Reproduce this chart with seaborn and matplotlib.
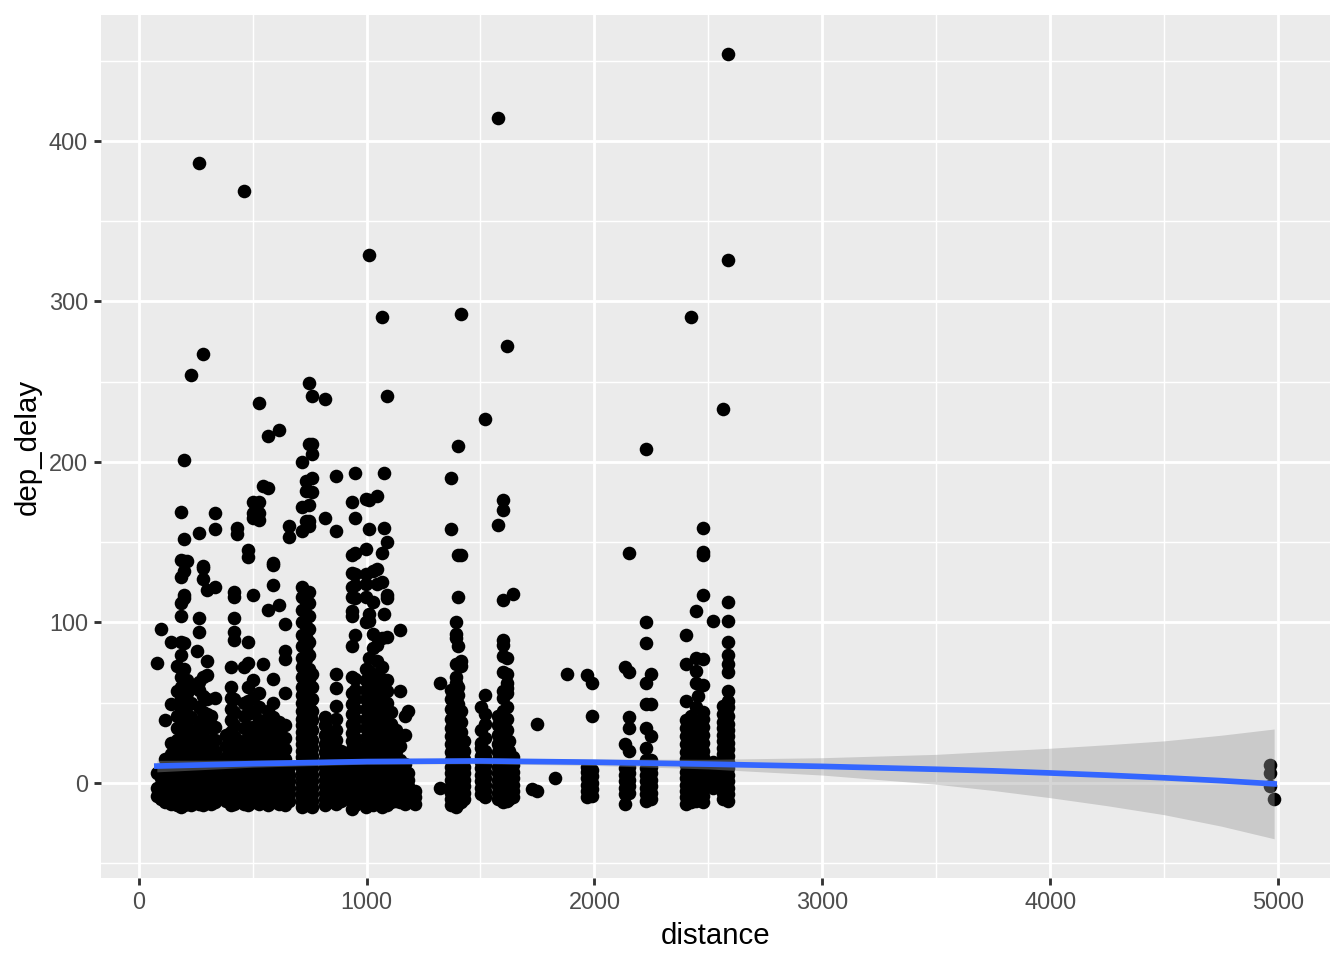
import matplotlib
matplotlib.use("Agg")
import matplotlib.pyplot as plt
import numpy as np
import pandas as pd
import seaborn as sns

# ---------------- data ----------------
dist_short = [80, 96, 116, 143, 169, 184, 199, 213, 229, 254, 264, 284, 301, 319, 335]
delay_short = [
    [-8, -3, 6, 75],
    [-10, -6, -1, 3, 96],
    [-12, -8, -4, 0, 4, 9, 15, 39],
    [-13, -9, -5, -1, 3, 7, 12, 18, 25, 49, 88],
    [-14, -10, -6, -2, 2, 6, 10, 15, 20, 27, 34, 42, 57, 73],
    [-15, -11, -7, -3, 1, 5, 9, 13, 18, 23, 28, 34, 40, 46, 53, 60, 66, 80, 88, 104, 112, 128, 139, 169],
    [-14, -10, -6, -2, 2, 6, 10, 14, 19, 24, 30, 37, 44, 52, 63, 71, 87, 115, 117, 132, 138, 152, 201],
    [-13, -9, -5, -1, 3, 7, 11, 16, 21, 27, 33, 40, 48, 56, 64, 138],
    [-14, -10, -6, -2, 2, 6, 10, 15, 20, 26, 33, 41, 50, 59, 254],
    [-12, -8, -4, 0, 4, 8, 13, 18, 24, 82],
    [-13, -9, -5, -1, 3, 7, 12, 17, 23, 30, 38, 47, 58, 63, 103, 94, 156, 386],
    [-14, -10, -6, -2, 2, 6, 10, 15, 21, 28, 35, 44, 54, 66, 127, 134, 135, 267],
    [-12, -8, -4, 0, 4, 9, 14, 20, 27, 35, 43, 52, 76, 67, 120],
    [-13, -9, -5, -1, 3, 8, 13, 19, 26, 34, 42],
    [-12, -8, -4, 0, 4, 9, 14, 20, 27, 35, 53, 122, 158, 168],
]

dist_mid = [382, 404, 419, 431, 462, 479, 502, 529, 544, 569, 589, 617, 641, 659,
            719, 733, 748, 762, 820, 833, 866, 888]
delay_mid = [
    [-11, -7, -3, 1, 5, 10, 16, 23, 30],
    [-14, -10, -6, -2, 2, 6, 10, 15, 20, 26, 32, 39, 46, 53, 60, 72],
    [-13, -9, -5, -1, 3, 7, 12, 17, 23, 29, 36, 44, 52, 89, 94, 103, 116, 119],
    [-12, -8, -4, 0, 4, 9, 14, 20, 27, 155, 159],
    [-13, -9, -5, -1, 3, 8, 13, 19, 26, 34, 42, 50, 72, 369],
    [-14, -10, -6, -2, 2, 6, 11, 16, 22, 28, 35, 43, 51, 60, 75, 88, 141, 145],
    [-12, -8, -4, 0, 4, 9, 14, 20, 27, 35, 44, 53, 64, 117, 165, 168, 175],
    [-13, -9, -5, -1, 3, 7, 12, 18, 24, 31, 39, 47, 56, 164, 168, 175, 237],
    [-11, -7, -3, 1, 5, 10, 16, 23, 30, 38, 74, 185],
    [-14, -10, -6, -2, 2, 6, 11, 16, 22, 29, 37, 45, 108, 184, 216],
    [-12, -8, -4, 0, 4, 8, 13, 19, 26, 33, 41, 50, 65, 123, 136, 137],
    [-13, -9, -5, -1, 3, 7, 12, 17, 23, 30, 38, 111, 220],
    [-14, -10, -6, -2, 2, 6, 10, 15, 21, 28, 36, 56, 77, 82, 99],
    [-11, -7, -3, 1, 5, 10, 160, 153],
    [-15, -12, -9, -6, -3, 0, 3, 6, 9, 12, 16, 20, 24, 28, 32, 36, 40, 45, 50, 55, 60, 66, 72, 78,
     85, 92, 100, 108, 116, 122, 157, 172, 200],
    [-14, -11, -8, -5, -2, 1, 4, 7, 10, 14, 18, 22, 26, 30, 35, 40, 46, 52, 58, 64, 70, 77, 84, 91,
     98, 105, 113, 163, 188, 182],
    [-13, -10, -7, -4, -1, 2, 5, 8, 11, 15, 19, 23, 27, 31, 36, 41, 47, 53, 59, 65, 71, 80, 88, 96,
     104, 112, 119, 173, 211, 249, 163, 160],
    [-15, -11, -7, -3, 1, 5, 9, 13, 17, 22, 27, 33, 39, 45, 52, 60, 68, 190, 181, 211, 205, 241],
    [-14, -10, -6, -2, 2, 6, 10, 14, 19, 24, 30, 36, 41, 165, 239],
    [-12, -8, -4, 0, 4, 8, 12, 17, 23, 29],
    [-13, -9, -5, -1, 3, 7, 11, 16, 21, 27, 33, 40, 48, 59, 68, 157, 191],
    [-11, -7, -3, 1, 5, 9, 14, 20],
]

dist_south = [937, 950, 997, 1010, 1028, 1047, 1068, 1076, 1089, 1107, 1131, 1148, 1167, 1183, 1213]
delay_south = [
    [-16, -12, -8, -4, 0, 4, 8, 12, 16, 21, 26, 31, 37, 43, 49, 56, 66, 85, 104, 107, 116, 122, 131, 175, 142],
    [-14, -10, -6, -2, 2, 6, 10, 14, 18, 23, 28, 34, 40, 46, 52, 58, 65, 92, 115, 123, 130, 143, 165, 193],
    [-15, -11, -7, -3, 1, 5, 9, 13, 18, 23, 28, 34, 40, 46, 52, 58, 64, 71, 100, 116, 124, 146, 130, 177],
    [-13, -9, -5, -1, 3, 7, 11, 15, 20, 25, 31, 37, 43, 49, 56, 63, 70, 78, 101, 105, 158, 176, 329],
    [-14, -10, -6, -2, 2, 6, 10, 14, 19, 24, 29, 35, 41, 47, 54, 61, 68, 84, 93, 113, 132],
    [-12, -8, -4, 0, 4, 8, 12, 17, 22, 27, 33, 39, 46, 53, 60, 76, 86, 124, 133, 179],
    [-15, -11, -7, -3, 1, 5, 9, 13, 18, 23, 28, 34, 40, 46, 52, 58, 65, 72, 90, 125, 143, 290],
    [-13, -9, -5, -1, 3, 7, 11, 16, 21, 26, 32, 38, 44, 51, 57, 105, 159, 193],
    [-14, -10, -6, -2, 2, 6, 10, 14, 19, 24, 30, 36, 43, 50, 57, 64, 91, 115, 117, 150, 241],
    [-12, -8, -4, 0, 4, 8, 13, 18, 24, 30, 37, 44],
    [-11, -7, -3, 1, 5, 9, 14, 20, 26, 33],
    [-12, -8, -4, 0, 5, 10, 14, 23, 57, 95],
    [-13, -9, -5, -1, 3, 7, 12, 30, 42],
    [-10, -6, -2, 2, 6, 45],
    [-13, -9, -5],
]

dist_central = [1323, 1372, 1391, 1400, 1416, 1428, 1504, 1521, 1576, 1598, 1617, 1626, 1645,
                1725, 1747, 1826, 1878, 1969, 1990]
delay_central = [
    [-3, 62],
    [-14, -10, -6, -2, 2, 6, 10, 14, 19, 24, 29, 34, 40, 46, 52, 58, 158, 190],
    [-15, -11, -7, -3, 1, 5, 9, 13, 18, 23, 28, 33, 39, 45, 51, 57, 62, 66, 74, 90, 93, 100],
    [-13, -9, -5, -1, 3, 7, 11, 16, 21, 26, 31, 37, 43, 49, 55, 60, 85, 116, 142, 210],
    [-12, -8, -4, 0, 4, 8, 12, 17, 22, 27, 32, 38, 45, 73, 76, 142, 292],
    [-10, -6, -2, 2, 6, 10, 15, 20, 26],
    [-7, -3, 1, 5, 9, 13, 17, 22, 25, 33, 47],
    [-9, -5, -1, 3, 7, 11, 16, 20, 28, 37, 43, 55, 227],
    [-10, -6, -2, 2, 6, 10, 14, 19, 24, 30, 36, 42, 161, 414],
    [-12, -8, -4, 0, 4, 8, 12, 16, 21, 26, 31, 36, 41, 45, 53, 57, 69, 79, 86, 89, 114, 170, 176],
    [-11, -7, -3, 1, 5, 9, 13, 17, 22, 27, 33, 40, 47, 56, 59, 62, 68, 78, 272],
    [-10, -6, -2, 2, 6, 10, 15, 20, 26],
    [-9, -5, -1, 3, 7, 11, 16, 118],
    [-4],
    [-5, 37],
    [3],
    [68],
    [-9, -5, -1, 3, 7, 10, 67],
    [-8, -4, 0, 4, 8, 42, 62],
]

dist_west = [2133, 2153, 2227, 2248, 2402, 2422, 2446, 2454, 2475, 2521, 2565, 2586]
delay_west = [
    [-13, -7, -3, 1, 5, 9, 24, 72],
    [-6, -2, 2, 6, 10, 20, 34, 41, 69, 143],
    [-11, -7, -3, 1, 5, 9, 14, 22, 34, 49, 62, 87, 100, 208],
    [-10, -6, -2, 2, 6, 10, 14, 29, 49, 68],
    [-13, -9, -5, -1, 3, 7, 11, 15, 19, 24, 29, 34, 39, 51, 74, 92],
    [-12, -8, -4, 0, 4, 8, 12, 16, 21, 26, 31, 36, 42, 290],
    [-11, -7, -3, 1, 5, 9, 13, 17, 22, 27, 32, 37, 47, 62, 70, 78, 107],
    [-10, -6, -2, 2, 6, 10, 14, 18, 23, 28, 33, 38, 54],
    [-12, -8, -4, 0, 4, 8, 12, 16, 20, 25, 30, 35, 40, 44, 61, 77, 117, 142, 144, 159],
    [-3, 2, 7, 13, 101],
    [-10, -6, -2, 2, 6, 10, 14, 18, 22, 26, 30, 34, 38, 43, 48, 233],
    [-11, -7, -3, 1, 5, 9, 13, 17, 21, 25, 29, 33, 37, 42, 47, 51, 57, 69, 74, 80, 88, 101, 113, 326, 454],
]

dist_hnl = [4963, 4983]
delay_hnl = [[-2, 6, 11], [-10]]

# smoothed trend (geom_smooth)
smooth_x = [80, 500, 1000, 1500, 2000, 2500, 3000, 3500, 3750, 4000, 4250, 4500, 4750, 4983]
smooth_y = [10.5, 12.0, 13.3, 13.7, 12.9, 11.7, 10.3, 8.5, 7.5, 6.2, 4.8, 3.2, 1.4, -0.6]
smooth_se = [3.6, 2.2, 1.6, 1.7, 2.0, 3.0, 5.4, 9.3, 12.2, 15.4, 19.0, 23.0, 28.3, 34.2]

# ---------------- build table ----------------
rows = []
for dists, delays in [(dist_short, delay_short), (dist_mid, delay_mid), (dist_south, delay_south),
                      (dist_central, delay_central), (dist_west, delay_west), (dist_hnl, delay_hnl)]:
    for d, vals in zip(dists, delays):
        for v in vals:
            rows.append((d, v))
df = pd.DataFrame(rows, columns=["distance", "dep_delay"])
sm = pd.DataFrame({"distance": smooth_x, "dep_delay": smooth_y, "se": smooth_se})
sm["lo"] = sm["dep_delay"] - sm["se"]
sm["hi"] = sm["dep_delay"] + sm["se"]

# ---------------- style ----------------
plt.rcParams["font.family"] = ["Liberation Sans", "DejaVu Sans"]

fig = plt.figure(figsize=(7, 5), dpi=192)
ax = fig.add_axes([101 / 1344, 1 - 878 / 960, (1330 - 101) / 1344, (878 - 15) / 960])
ax.set_facecolor("#EBEBEB")
for s in ax.spines.values():
    s.set_visible(False)

sns.scatterplot(data=df, x="distance", y="dep_delay", color="black", s=26,
                linewidth=0, ax=ax, zorder=3)
ax.fill_between(sm["distance"], sm["lo"], sm["hi"], color="#999999", alpha=0.4,
                linewidth=0, zorder=4)
sns.lineplot(data=sm, x="distance", y="dep_delay", color="#3366FF", linewidth=2.13,
             ax=ax, zorder=5)

# limits with ggplot-like 5% expansion
xmin, xmax = df["distance"].min(), df["distance"].max()
ymin = min(df["dep_delay"].min(), sm["lo"].min())
ymax = max(df["dep_delay"].max(), sm["hi"].max())
xr, yr = xmax - xmin, ymax - ymin
ax.set_xlim(xmin - 0.05 * xr, xmax + 0.05 * xr)
ax.set_ylim(ymin - 0.05 * yr, ymax + 0.05 * yr)

ax.set_xticks([0, 1000, 2000, 3000, 4000, 5000])
ax.set_xticks([500, 1500, 2500, 3500, 4500], minor=True)
ax.set_yticks([0, 100, 200, 300, 400])
ax.set_yticks([-50, 50, 150, 250, 350, 450], minor=True)
ax.grid(which="major", color="white", linewidth=1.07)
ax.grid(which="minor", color="white", linewidth=0.53)
ax.set_axisbelow(True)
ax.tick_params(which="major", length=2.75, width=1.07, color="#333333",
               labelsize=8.8, labelcolor="#4D4D4D", pad=2.2)
ax.tick_params(which="minor", length=0)

ax.set_xlabel("distance", fontsize=11, color="black", labelpad=2.75)
ax.set_ylabel("dep_delay", fontsize=11, color="black", labelpad=2.75)

fig.savefig("out.png", dpi=192)
